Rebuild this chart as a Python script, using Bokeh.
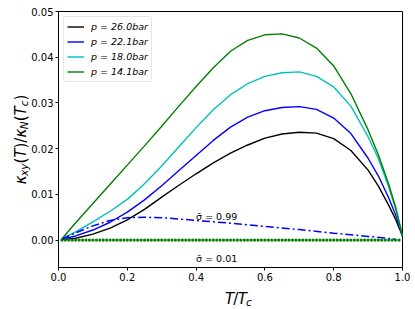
import math
from bokeh.plotting import figure
from bokeh.layouts import row, column
from bokeh.models import (Range1d, FixedTicker, Legend, LegendItem, Label,
                          CustomJSTickFormatter)
from bokeh.embed import file_html
from bokeh.resources import INLINE

# ---------------- data ----------------
t_over_tc = [0.01, 0.05, 0.10, 0.15, 0.20, 0.25, 0.30, 0.35, 0.40, 0.45, 0.50, 0.55,
             0.60, 0.65, 0.70, 0.75, 0.80, 0.85, 0.90, 0.93, 0.96, 0.98, 1.00]
kappa_p26_0 = [0.0001, 0.0004, 0.0013, 0.0026, 0.0044, 0.0067, 0.0094, 0.0120, 0.0145,
               0.0169, 0.0190, 0.0208, 0.0223, 0.0232, 0.0236, 0.0234, 0.0222, 0.0196,
               0.0153, 0.0118, 0.0076, 0.0045, 0.0009]
kappa_p22_1 = [0.0002, 0.0009, 0.0022, 0.0039, 0.0061, 0.0088, 0.0119, 0.0152, 0.0185,
               0.0218, 0.0247, 0.0269, 0.0283, 0.0290, 0.0292, 0.0286, 0.0267, 0.0233,
               0.0179, 0.0140, 0.0092, 0.0055, 0.0009]
kappa_p18_0 = [0.0003, 0.0018, 0.0040, 0.0063, 0.0089, 0.0123, 0.0162, 0.0204, 0.0246,
               0.0285, 0.0318, 0.0342, 0.0358, 0.0366, 0.0368, 0.0358, 0.0335, 0.0293,
               0.0226, 0.0178, 0.0116, 0.0068, 0.0009]
kappa_p14_1 = [0.0003, 0.0038, 0.0080, 0.0122, 0.0164, 0.0206, 0.0249, 0.0293, 0.0336,
               0.0377, 0.0413, 0.0437, 0.0449, 0.0451, 0.0442, 0.0420, 0.0381, 0.0320,
               0.0241, 0.0186, 0.0122, 0.0072, 0.0009]
pressures = ["26.0", "22.1", "18.0", "14.1"]

t_sigma_099 = [0.01, 0.05, 0.10, 0.15, 0.20, 0.25, 0.30, 0.40, 0.50, 0.60, 0.70, 0.80,
               0.90, 0.98]
kappa_sigma_099 = [0.0002, 0.0016, 0.0031, 0.0043, 0.0049, 0.0050, 0.0049, 0.0043,
                   0.0037, 0.0030, 0.0023, 0.0015, 0.0008, 0.0002]

t_sigma_001 = [i / 100 for i in range(1, 100)]
kappa_sigma_001 = [0.0] * len(t_sigma_001)

x_ticks = [0.0, 0.2, 0.4, 0.6, 0.8, 1.0]
x_tick_labels = ["0.0", "0.2", "0.4", "0.6", "0.8", "1.0"]
y_ticks = [0.00, 0.01, 0.02, 0.03, 0.04, 0.05]
y_tick_labels = ["0.00", "0.01", "0.02", "0.03", "0.04", "0.05"]

# ---------------- layout ----------------
YLAB_W = 36                       # strip holding the y title
OVERLAP = 8                       # main column slides over the strip's empty right edge
FW, FH = 344, 256
BL, BR, BT, BB = 28, 9, 11, 17
XLAB_H = 25                       # strip holding the x title
X0, X1 = 0.0, 1.0
Y0, Y1 = -0.006, 0.05
MAIN_W = BL + FW + BR
MAIN_H = BT + FH + BB

FONT = "DejaVu Sans"

p = figure(frame_width=FW, frame_height=FH,
           min_border_left=BL, min_border_right=BR,
           min_border_top=BT, min_border_bottom=BB,
           x_range=Range1d(X0, X1), y_range=Range1d(Y0, Y1),
           output_backend="svg", toolbar_location=None,
           background_fill_color="white", border_fill_color="white",
           border_fill_alpha=0.0)

p.xgrid.grid_line_color = None
p.ygrid.grid_line_color = None
p.outline_line_color = "black"
p.outline_line_width = 1
p.outline_line_alpha = 1

fmt_js = """
let best = 0;
for (let i = 0; i < tv.length; i++) {
  if (Math.abs(tv[i] - tick) < Math.abs(tv[best] - tick)) best = i;
}
return tl[best];
"""
p.xaxis.ticker = FixedTicker(ticks=x_ticks)
p.yaxis.ticker = FixedTicker(ticks=y_ticks)
p.xaxis.formatter = CustomJSTickFormatter(args=dict(tv=x_ticks, tl=x_tick_labels), code=fmt_js)
p.yaxis.formatter = CustomJSTickFormatter(args=dict(tv=y_ticks, tl=y_tick_labels), code=fmt_js)
for ax in (p.xaxis, p.yaxis):
    ax.axis_line_color = "black"
    ax.major_tick_line_color = "black"
    ax.major_tick_out = 3
    ax.major_tick_in = 0
    ax.minor_tick_line_color = None
    ax.major_label_text_font = FONT
    ax.major_label_text_font_size = "10px"
    ax.major_label_text_color = "black"
p.xaxis.major_label_standoff = 2
p.yaxis.major_label_standoff = 2

# ---------------- curves ----------------
colors = ["black", "#0000ff", "#00bfbf", "#008000"]
series = [kappa_p26_0, kappa_p22_1, kappa_p18_0, kappa_p14_1]
items = []
for pr, col, ys in zip(pressures, colors, series):
    r = p.line(t_over_tc, ys, line_color=col, line_width=1.4)
    items.append(LegendItem(label=f"p = {pr}bar", renderers=[r]))

p.line(t_sigma_099, kappa_sigma_099, line_color="#0000ff", line_width=1.5,
       line_dash="8 3 2 3")
p.scatter(t_sigma_001, kappa_sigma_001, size=3.2, fill_color="#008000",
          line_color="#008000", line_width=0)

legend = Legend(items=items, location="top_left",
                label_text_font=FONT, label_text_font_size="9.5px",
                label_text_font_style="italic", label_text_color="black",
                glyph_width=17, glyph_height=13, label_height=13,
                label_standoff=7, spacing=2, padding=3, margin=5,
                border_line_color="#cccccc", border_line_width=1,
                background_fill_color="white", background_fill_alpha=0.8)
if "border_radius" in Legend.properties():
    legend.border_radius = 3
p.add_layout(legend)

# ---------------- annotations ----------------
p.add_layout(Label(x=0.4, y=0.0051, text="σ̄ = 0.99", text_font=FONT,
                   text_font_size="9.5px", text_color="black",
                   text_align="left", text_baseline="alphabetic"))
p.add_layout(Label(x=0.4, y=-0.0040, text="σ̄ = 0.01", text_font=FONT,
                   text_font_size="9.5px", text_color="black",
                   text_align="left", text_baseline="alphabetic"))

# ---------------- axis titles (math-like pieces) in their own strips ----------------
S = 15.0
s = S * 0.7
W = {"κ": 0.56, "x": 0.592, "y": 0.592, "(": 0.390, ")": 0.390, "T": 0.611,
     "/": 0.337, "N": 0.748, "c": 0.550}


def width(txt, size):
    return sum(W[ch] for ch in txt) * size


def strip(w, h):
    f = figure(width=w, height=h, x_range=Range1d(0, w), y_range=Range1d(0, h),
               min_border=0, x_axis_location=None, y_axis_location=None,
               output_backend="svg", toolbar_location=None,
               background_fill_color="white", border_fill_color="white")
    f.xgrid.grid_line_color = None
    f.ygrid.grid_line_color = None
    f.outline_line_color = None
    return f


# y title: reads bottom-to-top, centred on the frame
ystrip = strip(YLAB_W, MAIN_H + XLAB_H)
ylab = [("κ", S, True, False), ("xy", s, True, True), ("(", S, False, False),
        ("T", S, True, False), (")", S, False, False), ("/", S, False, False),
        ("κ", S, True, False), ("N", s, True, True), ("(", S, False, False),
        ("T", S, True, False), ("c", s, True, True), (")", S, False, False)]
L = sum(width(t, sz) for t, sz, _, _ in ylab)
v = (XLAB_H + BB + FH / 2) - L / 2
base_x = 20.5
for txt, sz, it, sub in ylab:
    ystrip.add_layout(Label(x=base_x + (2.6 if sub else 0.0), y=v, text=txt,
                            angle=math.pi / 2, text_font=FONT,
                            text_font_size=f"{sz}px",
                            text_font_style="italic" if it else "normal",
                            text_color="black", text_align="left",
                            text_baseline="alphabetic"))
    v += width(txt, sz)

# x title: centred under the frame
xstrip = strip(MAIN_W, XLAB_H)
xlab = [("T", S, True, False), ("/", S, False, False), ("T", S, True, False),
        ("c", s, True, True)]
L = sum(width(t, sz) for t, sz, _, _ in xlab)
u = BL + FW / 2 - L / 2
base_y = XLAB_H - (298.0 - MAIN_H)
for txt, sz, it, sub in xlab:
    xstrip.add_layout(Label(x=u, y=base_y - (3.0 if sub else 0.0), text=txt,
                            text_font=FONT, text_font_size=f"{sz}px",
                            text_font_style="italic" if it else "normal",
                            text_color="black", text_align="left",
                            text_baseline="alphabetic"))
    u += width(txt, sz)

right = column(p, xstrip, spacing=0, margin=(0, 0, 0, -OVERLAP))
layout = row(ystrip, right, spacing=0)
open("out.html", "w").write(file_html(layout, INLINE))
